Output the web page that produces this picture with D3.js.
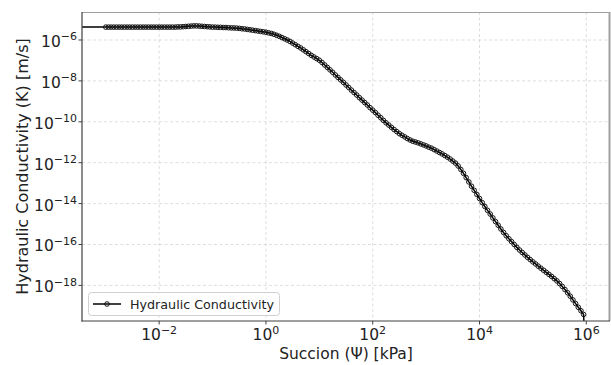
<!DOCTYPE html>
<html>
<head>
<meta charset="utf-8">
<script src="https://cdn.jsdelivr.net/npm/d3@7"></script>
<style>
  html, body { margin: 0; padding: 0; background: #fff; }
  svg { display: block; font-family: "DejaVu Sans", sans-serif; }
</style>
</head>
<body>
<svg id="chart" width="611" height="365"></svg>
<script>
// ---- data (log10 values) ----
const logSuccion = [
  -6.00,
  -3.00,-2.95,-2.90,-2.85,-2.80,-2.75,-2.70,-2.65,-2.60,-2.55,-2.50,-2.45,-2.40,-2.35,-2.30,-2.25,-2.20,-2.15,-2.10,-2.05,
  -2.00,-1.95,-1.90,-1.85,-1.80,-1.75,-1.70,-1.65,-1.60,-1.55,-1.50,-1.45,-1.40,-1.35,-1.30,-1.25,-1.20,-1.15,-1.10,-1.05,
  -1.00,-0.95,-0.90,-0.85,-0.80,-0.75,-0.70,-0.65,-0.60,-0.55,-0.50,-0.45,-0.40,-0.35,-0.30,-0.25,-0.20,-0.15,-0.10,-0.05,
   0.00, 0.05, 0.10, 0.15, 0.20, 0.25, 0.30, 0.35, 0.40, 0.45, 0.50, 0.55, 0.60, 0.65, 0.70, 0.75, 0.80, 0.85, 0.90, 0.95,
   1.00, 1.05, 1.10, 1.15, 1.20, 1.25, 1.30, 1.35, 1.40, 1.45, 1.50, 1.55, 1.60, 1.65, 1.70, 1.75, 1.80, 1.85, 1.90, 1.95,
   2.00, 2.05, 2.10, 2.15, 2.20, 2.25, 2.30, 2.35, 2.40, 2.45, 2.50, 2.55, 2.60, 2.65, 2.70, 2.75, 2.80, 2.85, 2.90, 2.95,
   3.00, 3.05, 3.10, 3.15, 3.20, 3.25, 3.30, 3.35, 3.40, 3.45, 3.50, 3.55, 3.60, 3.65, 3.70, 3.75, 3.80, 3.85, 3.90, 3.95,
   4.00, 4.05, 4.10, 4.15, 4.20, 4.25, 4.30, 4.35, 4.40, 4.45, 4.50, 4.55, 4.60, 4.65, 4.70, 4.75, 4.80, 4.85, 4.90, 4.95,
   5.00, 5.05, 5.10, 5.15, 5.20, 5.25, 5.30, 5.35, 5.40, 5.45, 5.50, 5.55, 5.60, 5.65, 5.70, 5.75, 5.80, 5.85, 5.90, 5.95,
   6.00
];
const logK = [
  -5.37,
  -5.37,-5.37,-5.37,-5.37,-5.37,-5.37,-5.37,-5.37,-5.37,-5.37,-5.37,-5.37,-5.37,-5.37,-5.37,-5.37,-5.37,-5.37,-5.37,-5.37,
  -5.37,-5.37,-5.37,-5.37,-5.37,-5.37,-5.37,-5.36,-5.36,-5.35,-5.34,-5.33,-5.32,-5.31,-5.31,-5.32,-5.33,-5.34,-5.35,-5.36,
  -5.37,-5.37,-5.38,-5.38,-5.39,-5.39,-5.40,-5.41,-5.41,-5.42,-5.43,-5.45,-5.46,-5.48,-5.50,-5.52,-5.54,-5.56,-5.58,-5.60,
  -5.62,-5.65,-5.68,-5.72,-5.77,-5.82,-5.88,-5.94,-6.00,-6.07,-6.15,-6.23,-6.31,-6.39,-6.48,-6.57,-6.66,-6.75,-6.83,-6.91,
  -6.99,-7.10,-7.22,-7.34,-7.46,-7.58,-7.71,-7.83,-7.95,-8.07,-8.20,-8.32,-8.45,-8.57,-8.69,-8.82,-8.94,-9.06,-9.18,-9.31,
  -9.43,-9.55,-9.68,-9.80,-9.93,-10.05,-10.16,-10.27,-10.38,-10.48,-10.58,-10.66,-10.74,-10.82,-10.89,-10.95,-10.99,-11.03,-11.08,-11.13,
  -11.18,-11.24,-11.29,-11.36,-11.43,-11.50,-11.57,-11.65,-11.73,-11.82,-11.92,-12.02,-12.16,-12.33,-12.52,-12.73,-12.94,-13.15,-13.35,-13.55,
  -13.75,-13.95,-14.14,-14.33,-14.51,-14.70,-14.88,-15.06,-15.24,-15.41,-15.57,-15.72,-15.86,-16.00,-16.14,-16.27,-16.39,-16.51,-16.63,-16.74,
  -16.85,-16.95,-17.06,-17.16,-17.26,-17.36,-17.46,-17.56,-17.67,-17.78,-17.91,-18.05,-18.20,-18.36,-18.53,-18.71,-18.89,-19.07,-19.24,-19.42,
  -23.00
];
const xTickExp = [-2, 0, 2, 4, 6];
const yTickExp = [-6, -8, -10, -12, -14, -16, -18];
const seriesName = "Hydraulic Conductivity";
const xLabel = "Succion (\u03A8) [kPa]";
const yLabel = "Hydraulic Conductivity (K) [m/s]";

// ---- layout ----
const svg = d3.select("#chart");
const L = 82, R = 610, T = 12, B = 321;
const x = d3.scaleLog().domain([Math.pow(10, -3.445), Math.pow(10, 6.444)]).range([L, R]);
const y = d3.scaleLog().domain([Math.pow(10, -19.741), Math.pow(10, -4.631)]).range([B, T]);

const data = logSuccion.map((e, i) => ({ psi: Math.pow(10, e), k: Math.pow(10, logK[i]) }));

svg.append("defs").append("clipPath").attr("id", "clip")
  .append("rect").attr("x", L).attr("y", T).attr("width", R - L).attr("height", B - T);

// grid
const grid = svg.append("g");
grid.selectAll("line.gx").data(xTickExp).enter().append("line")
  .attr("x1", d => x(Math.pow(10, d))).attr("x2", d => x(Math.pow(10, d)))
  .attr("y1", T).attr("y2", B)
  .attr("stroke", "#d4d4d4").attr("stroke-width", 0.8).attr("stroke-dasharray", "3,2.5");
grid.selectAll("line.gy").data(yTickExp).enter().append("line")
  .attr("y1", d => y(Math.pow(10, d))).attr("y2", d => y(Math.pow(10, d)))
  .attr("x1", L).attr("x2", R)
  .attr("stroke", "#d4d4d4").attr("stroke-width", 0.8).attr("stroke-dasharray", "3,2.5");

// series
const plot = svg.append("g").attr("clip-path", "url(#clip)");
plot.append("path").datum(data)
  .attr("fill", "none").attr("stroke", "#000").attr("stroke-width", 1.5)
  .attr("d", d3.line().x(d => x(d.psi)).y(d => y(d.k)));
plot.selectAll("circle").data(data).enter().append("circle")
  .attr("cx", d => x(d.psi)).attr("cy", d => y(d.k)).attr("r", 2.3)
  .attr("fill", "none").attr("stroke", "#111").attr("stroke-width", 1);

// spines
svg.append("line").attr("x1", L).attr("x2", R).attr("y1", T + 0.5).attr("y2", T + 0.5)
  .attr("stroke", "#a0a0a0").attr("stroke-width", 1.2);
svg.append("line").attr("x1", R - 0.5).attr("x2", R - 0.5).attr("y1", T).attr("y2", B)
  .attr("stroke", "#a0a0a0").attr("stroke-width", 2);
svg.append("line").attr("x1", L).attr("x2", L).attr("y1", T).attr("y2", B + 0.6)
  .attr("stroke", "#404040").attr("stroke-width", 1.2);
svg.append("line").attr("x1", L - 0.6).attr("x2", R).attr("y1", B).attr("y2", B)
  .attr("stroke", "#404040").attr("stroke-width", 1.2);

// x ticks
const xt = svg.append("g");
xTickExp.forEach(e => {
  const px = x(Math.pow(10, e));
  xt.append("line").attr("x1", px).attr("x2", px).attr("y1", B).attr("y2", B + 3.5)
    .attr("stroke", "#404040").attr("stroke-width", 1);
  const t = xt.append("text").attr("x", px).attr("y", 340).attr("text-anchor", "middle")
    .attr("font-size", 15.5).attr("fill", "#222");
  t.append("tspan").text("10");
  t.append("tspan").attr("dy", -6.5).attr("font-size", 11).text(e < 0 ? "\u2212" + Math.abs(e) : String(e));
});

// y ticks
const yt = svg.append("g");
yTickExp.forEach(e => {
  const py = y(Math.pow(10, e));
  yt.append("line").attr("x1", L - 3.5).attr("x2", L).attr("y1", py).attr("y2", py)
    .attr("stroke", "#404040").attr("stroke-width", 1);
  const t = yt.append("text").attr("x", 77).attr("y", py + 7).attr("text-anchor", "end")
    .attr("font-size", 15.5).attr("fill", "#222");
  t.append("tspan").text("10");
  t.append("tspan").attr("dy", -6.5).attr("font-size", 11).text("\u2212" + Math.abs(e));
});

// axis labels
svg.append("text").attr("x", (L + R) / 2).attr("y", 358.5).attr("text-anchor", "middle")
  .attr("font-size", 15.5).attr("fill", "#222").text(xLabel);
svg.append("text").attr("transform", `translate(28,${(T + B) / 2}) rotate(-90)`)
  .attr("text-anchor", "middle").attr("font-size", 16).attr("fill", "#222").text(yLabel);

// legend
const lg = svg.append("g");
lg.append("rect").attr("x", 88.5).attr("y", 292.5).attr("width", 191).attr("height", 23).attr("rx", 3)
  .attr("fill", "#fff").attr("fill-opacity", 0.8).attr("stroke", "#d0d0d0").attr("stroke-width", 1);
lg.append("line").attr("x1", 93).attr("x2", 121).attr("y1", 304).attr("y2", 304)
  .attr("stroke", "#000").attr("stroke-width", 1.5);
lg.append("circle").attr("cx", 107).attr("cy", 304).attr("r", 2.3)
  .attr("fill", "none").attr("stroke", "#111").attr("stroke-width", 1);
lg.append("text").attr("x", 130).attr("y", 308.5).attr("font-size", 12.7).attr("fill", "#222").text(seriesName);
</script>
</body>
</html>
